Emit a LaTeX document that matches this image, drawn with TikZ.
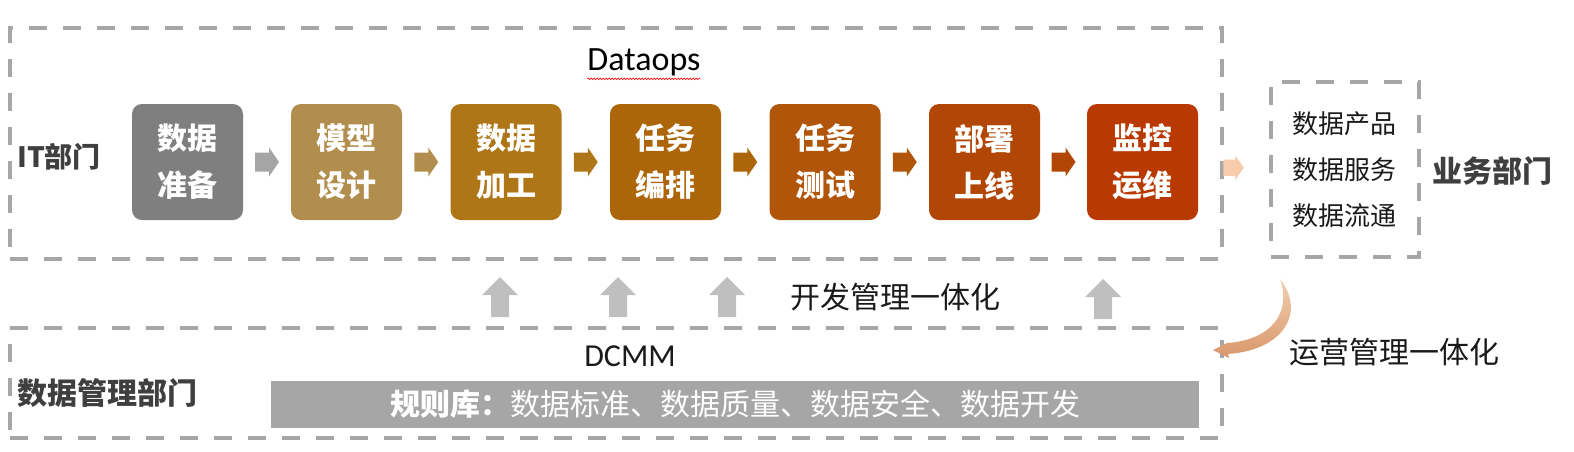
\documentclass[tikz,border=0pt]{standalone}
\usepackage{fontspec}
\setmainfont{Noto Sans CJK SC}
\newfontfamily\latfont{Carlito}
\usetikzlibrary{decorations.pathmorphing}
\definecolor{dashgray}{HTML}{A6A6A6}
\definecolor{cA}{HTML}{7F7F7F}
\definecolor{cB}{HTML}{B28E4E}
\definecolor{cC}{HTML}{AE7617}
\definecolor{cD}{HTML}{AD6509}
\definecolor{cE}{HTML}{B05509}
\definecolor{cF}{HTML}{B14606}
\definecolor{cG}{HTML}{B83A02}
\definecolor{arrA}{HTML}{A5A5A5}
\definecolor{arrPeach}{HTML}{F8CBAD}
\definecolor{upgray}{HTML}{BFBFBF}
\definecolor{bargray}{HTML}{A6A6A6}
\definecolor{labelgray}{HTML}{3F3F3F}
\definecolor{txt}{HTML}{1A1A1A}
\definecolor{curveTop}{HTML}{F2CFB2}
\definecolor{curveBot}{HTML}{D9976B}
\begin{document}
\begin{tikzpicture}[x=1pt,y=-1pt,
  dashbox/.style={draw=dashgray, line width=4pt, dash pattern=on 18pt off 16pt, inner sep=0pt},
  stepbox/.style={rounded corners=10pt, minimum width=111pt, minimum height=116pt, inner sep=0pt,
    text=white, align=center, font=\fontsize{30}{47}\selectfont\bfseries},
  boldlabel/.style={text=labelgray, font=\fontsize{30}{36}\selectfont\bfseries, inner sep=0pt},
  plain/.style={text=txt, font=\fontsize{30}{36}\selectfont, inner sep=0pt},
  biztext/.style={text=txt, font=\fontsize{26}{30}\selectfont, inner sep=0pt},
  rarr/.pic={\fill[pic actions] (-12,-9.5) -- (2,-9.5) -- (2,-14.5) -- (12,0) -- (2,14.5) -- (2,9.5) -- (-12,9.5) -- cycle;},
  uarr/.pic={\fill[pic actions] (-9,20) -- (-9,-2) -- (-18,-2) -- (0,-20) -- (18,-2) -- (9,-2) -- (9,20) -- cycle;}
]
\useasboundingbox (0,0) rectangle (1574,451);

% frames
\node[dashbox, minimum width=1212pt, minimum height=231pt] (it) at (616,143.5) {};
\node[dashbox, minimum width=148pt, minimum height=175pt] (biz) at (1345,169.5) {};
\node[dashbox, minimum width=1212pt, minimum height=110pt] (low) at (616,383) {};

% Dataops title
\node[text=black, font=\latfont\fontsize{34}{40}\selectfont, inner sep=0pt] (dataops) at (644,62) {Dataops};
\draw[red, line width=0.6pt, decorate, decoration={snake, segment length=3pt, amplitude=0.8pt}]
  ([yshift=-3pt]dataops.south west) -- ([yshift=-3pt]dataops.south east);

% labels
\node[boldlabel, anchor=west, font=\fontsize{28}{34}\selectfont\bfseries] (itlab) at (17,157) {IT部门};
\node[boldlabel, anchor=west] (bizlab) at (1432,171) {业务部门};
\node[boldlabel, anchor=west] (dmlab) at (17,393) {数据管理部门};

% steps
\node[stepbox, fill=cA] (b1) at (187.5,162) {数据\\准备};
\node[stepbox, fill=cB] (b2) at (346.5,162) {模型\\设计};
\node[stepbox, fill=cC] (b3) at (506,162) {数据\\加工};
\node[stepbox, fill=cD] (b4) at (665.5,162) {任务\\编排};
\node[stepbox, fill=cE] (b5) at (825,162) {任务\\测试};
\node[stepbox, fill=cF] (b6) at (984.5,162) {部署\\上线};
\node[stepbox, fill=cG] (b7) at (1142.5,162) {监控\\运维};

\path (b1.east) -- (b2.west) coordinate[midway] (m1);
\path (b2.east) -- (b3.west) coordinate[midway] (m2);
\path (b3.east) -- (b4.west) coordinate[midway] (m3);
\path (b4.east) -- (b5.west) coordinate[midway] (m4);
\path (b5.east) -- (b6.west) coordinate[midway] (m5);
\path (b6.east) -- (b7.west) coordinate[midway] (m6);
\path (b7.east) -- (biz.west) coordinate[midway] (m7);
\pic[fill=arrA] at (m1) {rarr};
\pic[fill=cB] at (m2) {rarr};
\pic[fill=cC] at (m3) {rarr};
\pic[fill=cD] at (m4) {rarr};
\pic[fill=cE] at (m5) {rarr};
\pic[fill=cF] at (m6) {rarr};
\pic[fill=arrPeach, scale=0.85] at ([yshift=-2pt]m7) {rarr};

% business texts
\node[biztext] (p1) at (1344,124) {数据产品};
\node[biztext] (p2) at (1344,170) {数据服务};
\node[biztext] (p3) at (1344,216) {数据流通};

% up arrows
\pic[fill=upgray] at (500,297) {uarr};
\pic[fill=upgray] at (618,297) {uarr};
\pic[fill=upgray] at (727,297) {uarr};
\pic[fill=upgray] at (1103,299) {uarr};
\node[plain] (devint) at (895,297) {开发管理一体化};

% DCMM
\node[text=txt, font=\latfont\fontsize{32}{38}\selectfont, inner sep=0pt] (dcmm) at (630,356) {DCMM};
\node[fill=bargray, minimum width=928pt, minimum height=47pt, inner sep=0pt,
  text=white, font=\fontsize{30}{36}\selectfont] (bar) at (735,404.5)
  {\textbf{规则库：}数据标准、数据质量、数据安全、数据开发};

% operation curve
\coordinate (cs) at (1280,279);
\coordinate (ce) at (1213,350);
\shade[top color=curveTop, bottom color=curveBot]
  (cs) .. controls (1306,312) and (1284,350) .. (1228,354)
  -- (1229,358) -- (ce) -- (1227,343)
  .. controls (1270,340) and (1292,314) .. (cs) -- cycle;
\node[plain, anchor=west] (opint) at (1289,352) {运营管理一体化};
\end{tikzpicture}
\end{document}
